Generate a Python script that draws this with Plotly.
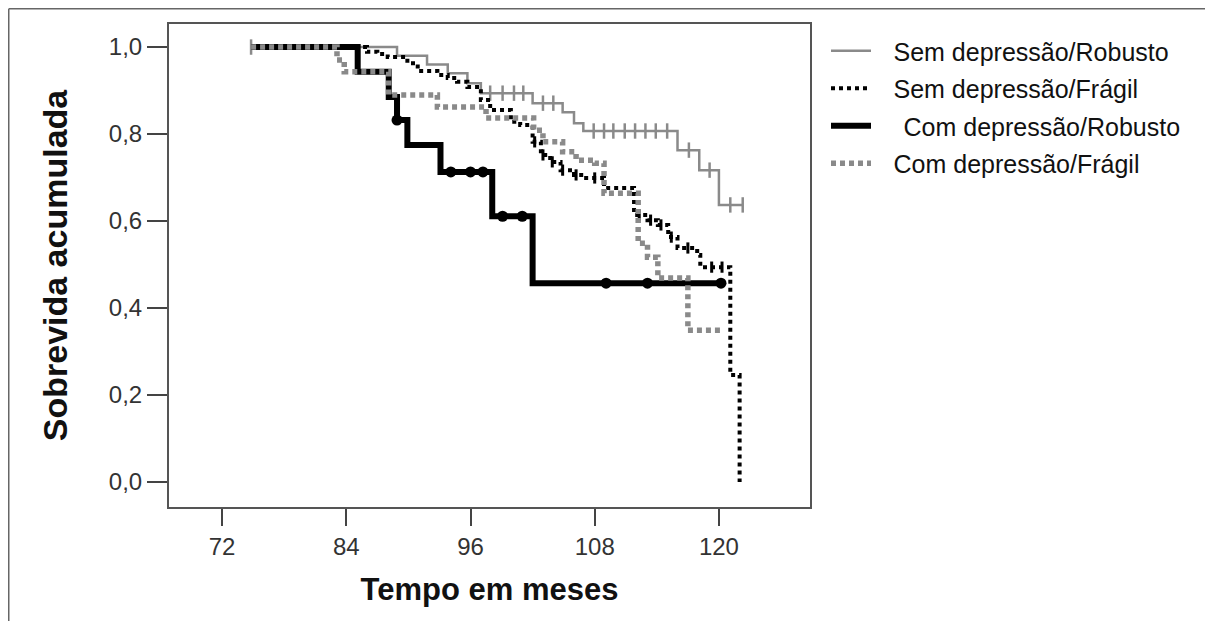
import plotly.graph_objects as go

# ---------------- data ----------------
start_time = 74.8

# Sem depressão/Robusto
sr_event_t = [88.9, 91.8, 93.8, 95.7, 97.0, 102.0, 104.9, 106.0, 106.9, 116.0, 118.1, 120.0]
sr_event_s = [0.980, 0.960, 0.940, 0.917, 0.894, 0.871, 0.850, 0.825, 0.807, 0.763, 0.717, 0.637]
sr_end = 122.3
sr_cens_t = [74.8, 97.9, 99.1, 100.2, 101.1, 103.0, 104.0, 107.9, 108.9, 109.8, 110.9, 111.9, 112.9, 113.9, 115.0,
             117.1, 119.1, 121.1, 122.3]
sr_cens_s = [1.0, 0.894, 0.894, 0.894, 0.894, 0.871, 0.871, 0.807, 0.807, 0.807, 0.807, 0.807, 0.807, 0.807, 0.807,
             0.763, 0.717, 0.637, 0.637]

# Sem depressão/Frágil
sf_event_t = [86.0, 87.0, 88.0, 89.9, 90.9, 92.8, 93.8, 94.7, 95.7, 97.0, 97.9, 99.9, 100.8, 102.0, 102.8, 103.7,
              104.7, 106.0, 106.9, 108.9, 111.8, 113.1, 114.1, 115.1, 116.0, 117.9, 118.2, 121.1, 122.0]
sf_event_s = [0.989, 0.984, 0.977, 0.963, 0.945, 0.936, 0.929, 0.920, 0.908, 0.878, 0.855, 0.828, 0.821, 0.782,
              0.752, 0.736, 0.717, 0.706, 0.699, 0.676, 0.614, 0.602, 0.591, 0.563, 0.538, 0.522, 0.494, 0.246, 0.0]
sf_end = 122.0
sf_cens_t = [102.2, 103.0, 103.9, 104.9, 106.2, 108.0, 112.3, 113.4, 114.4, 115.4, 117.0, 119.3, 120.3]
sf_cens_s = [0.782, 0.752, 0.736, 0.717, 0.706, 0.699, 0.614, 0.602, 0.591, 0.563, 0.538, 0.494, 0.494]

# Com depressão/Robusto
cr_event_t = [85.1, 88.1, 88.9, 89.9, 93.1, 98.1, 102.0]
cr_event_s = [0.943, 0.885, 0.832, 0.775, 0.713, 0.611, 0.457]
cr_end = 120.2
cr_cens_t = [88.9, 94.1, 96.0, 97.2, 99.1, 101.0, 109.1, 113.1, 120.2]
cr_cens_s = [0.832, 0.713, 0.713, 0.713, 0.611, 0.611, 0.457, 0.457, 0.457]

# Com depressão/Frágil
cf_event_t = [83.1, 83.8, 88.1, 92.8, 97.5, 102.1, 103.0, 104.9, 106.2, 108.0, 108.9, 112.2, 113.1, 114.1, 117.0]
cf_event_s = [0.970, 0.943, 0.890, 0.862, 0.837, 0.809, 0.782, 0.759, 0.740, 0.733, 0.664, 0.549, 0.517, 0.469, 0.349]
cf_end = 120.2

x_ticks = [72, 84, 96, 108, 120]
y_ticks = [0.0, 0.2, 0.4, 0.6, 0.8, 1.0]

legend_names = ["Sem depressão/Robusto", "Sem depressão/Frágil", "Com depressão/Robusto", "Com depressão/Frágil"]

GRAY = "#8a8a8a"
FONT = "Liberation Sans, Arial, sans-serif"

# figure geometry (page body adds 8px offset)
W, H = 1205, 613
ML, MT, PW, PH = 161, 16, 641, 483

# small lead-in gaps between legend symbol and legend text (as in the reference)
legend_pad = ["\u2002\u2009", "\u2002\u2009", "\u2002\u2009\u2009\u2009", "\u2002\u2009"]


def steps(ev_t, ev_s, end):
    xs = [start_time] + list(ev_t) + [end]
    ys = [1.0] + list(ev_s) + [ev_s[-1]]
    return xs, ys


fig = go.Figure()

x, y = steps(sr_event_t, sr_event_s, sr_end)
fig.add_trace(go.Scatter(x=x, y=y, mode="lines", line=dict(color=GRAY, width=2.5, shape="hv"),
                         name=legend_pad[0] + legend_names[0], legendgroup="a"))
fig.add_trace(go.Scatter(x=sr_cens_t, y=sr_cens_s, mode="markers", showlegend=False, legendgroup="a",
                         marker=dict(symbol="line-ns-open", size=11, color=GRAY, line=dict(color=GRAY, width=2.5))))

x, y = steps(sf_event_t, sf_event_s, sf_end)
fig.add_trace(go.Scatter(x=x, y=y, mode="lines", line=dict(color="black", width=4, shape="hv", dash="4px,4px"),
                         name=legend_pad[1] + legend_names[1], legendgroup="b"))
fig.add_trace(go.Scatter(x=sf_cens_t, y=sf_cens_s, mode="markers", showlegend=False, legendgroup="b",
                         marker=dict(symbol="line-ns-open", size=8, color="black", line=dict(color="black", width=3))))

x, y = steps(cr_event_t, cr_event_s, cr_end)
fig.add_trace(go.Scatter(x=x, y=y, mode="lines", line=dict(color="black", width=6, shape="hv"),
                         name=legend_pad[2] + legend_names[2], legendgroup="c"))
fig.add_trace(go.Scatter(x=cr_cens_t, y=cr_cens_s, mode="markers", showlegend=False, legendgroup="c",
                         marker=dict(symbol="circle", size=11, color="black")))

x, y = steps(cf_event_t, cf_event_s, cf_end)
fig.add_trace(go.Scatter(x=x, y=y, mode="lines", line=dict(color=GRAY, width=5.5, shape="hv", dash="5px,4px"),
                         name=legend_pad[3] + legend_names[3], legendgroup="d"))

fx = lambda px: (px - ML) / PW
fy = lambda py: 1 - (py - MT) / PH

fig.update_layout(
    width=W, height=H,
    margin=dict(l=ML, r=W - ML - PW, t=MT, b=H - MT - PH, autoexpand=False),
    paper_bgcolor="white", plot_bgcolor="white",
    separators=",.",
    font=dict(family=FONT, color="#222"),
    showlegend=True,
    legend=dict(x=fx(818), y=fy(20), xanchor="left", yanchor="top", font=dict(size=25, color="#111"),
                bgcolor="rgba(0,0,0,0)", tracegroupgap=2, itemwidth=40),
    xaxis=dict(range=[66.87, 128.8], tickvals=x_ticks, ticks="outside", ticklen=17, tickwidth=2,
               tickcolor="#444", showline=True, mirror=True, linecolor="#555", linewidth=2,
               showgrid=False, zeroline=False, tickfont=dict(size=24, color="#333"),
               title=dict(text="<b>Tempo em meses</b>", font=dict(size=31, color="#111"), standoff=20)),
    yaxis=dict(range=[-0.0575, 1.053], tickvals=y_ticks, tickformat=".1f", ticks="outside", ticklen=20,
               tickwidth=2, tickcolor="#444", showline=True, mirror=True, linecolor="#555", linewidth=2,
               showgrid=False, zeroline=False, tickfont=dict(size=24, color="#333"),
               title=dict(text="<b>Sobrevida acumulada</b>", font=dict(size=34, color="#111"), standoff=31)),
    shapes=[
        dict(type="line", xref="paper", yref="paper", x0=fx(0.75), x1=fx(W + 20),
             y0=fy(0.75), y1=fy(0.75), line=dict(color="#666", width=1.5)),
        dict(type="line", xref="paper", yref="paper", x0=fx(0.75), x1=fx(0.75),
             y0=fy(0.75), y1=fy(H + 20), line=dict(color="#666", width=1.5)),
    ],
)

fig.write_html("out.html")
